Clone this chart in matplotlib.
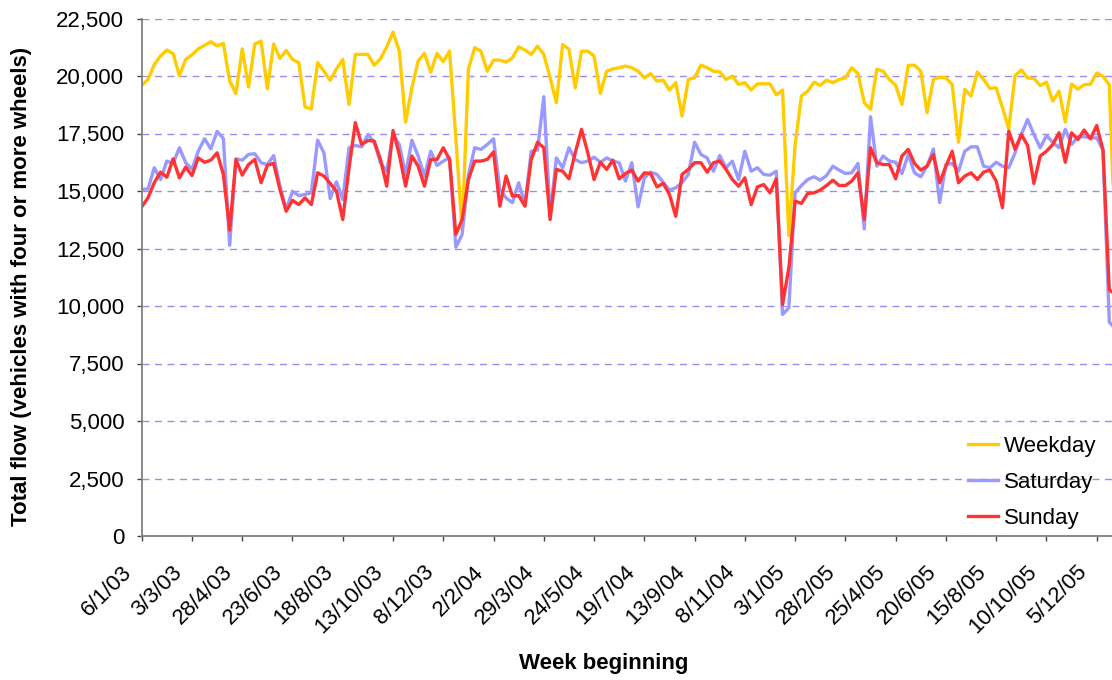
import numpy as np
import matplotlib
matplotlib.use('Agg')
import matplotlib.pyplot as plt
import matplotlib.ticker as ticker
import matplotlib.transforms as transforms

plt.rcParams['font.family'] = ['Liberation Sans', 'DejaVu Sans']

# week labels, one every 8 weeks starting 6/1/03
tick_labels = ['6/1/03', '3/3/03', '28/4/03', '23/6/03', '18/8/03', '13/10/03', '8/12/03',
               '2/2/04', '29/3/04', '24/5/04', '19/7/04', '13/9/04', '8/11/04',
               '3/1/05', '28/2/05', '25/4/05', '20/6/05', '15/8/05', '10/10/05', '5/12/05']
label_step = 8

# weekly total flow, vehicles with four or more wheels
weekday = [19590, 19850, 20500, 20870, 21130, 20970, 20020, 20720, 20920, 21180,
           21330, 21490, 21310, 21420, 19780, 19240, 21180, 19520, 21390, 21520,
           19440, 21390, 20760, 21110, 20720, 20580, 18650, 18570, 20580, 20210,
           19810, 20310, 20720, 18760, 20940, 20940, 20940, 20470, 20750, 21270,
           21910, 21080, 17990, 19490, 20650, 20980, 20170, 20980, 20630, 21080,
           17300, 13300, 20290, 21230, 21080, 20210, 20690, 20690, 20600, 20790,
           21270, 21130, 20940, 21300, 20940, 19920, 18840, 21370, 21160, 19490,
           21080, 21080, 20870, 19240, 20210, 20310, 20360, 20430, 20360, 20210,
           19920, 20100, 19780, 19820, 19390, 19710, 18260, 19850, 19920, 20470,
           20360, 20210, 20180, 19850, 20000, 19630, 19710, 19390, 19660, 19660,
           19660, 19180, 19390, 13060, 17020, 19130, 19340, 19730, 19590, 19820,
           19710, 19850, 19920, 20360, 20110, 18840, 18550, 20290, 20210, 19850,
           19590, 18760, 20460, 20470, 20210, 18400, 19850, 19950, 19920, 19630,
           17120, 19420, 19130, 20170, 19850, 19460, 19490, 18620, 17700, 20020,
           20260, 19920, 19890, 19590, 19730, 18910, 19340, 18000, 19650, 19430,
           19620, 19640, 20130, 19980, 19620, 12350]
saturday = [15070, 15090, 16010, 15500, 16300, 16200, 16880, 16230, 15940, 16730,
            17270, 16830, 17590, 17280, 12640, 16400, 16340, 16590, 16620, 16230,
            16150, 16540, 15210, 14200, 14990, 14800, 14850, 14920, 17210, 16660,
            14670, 15400, 14630, 16880, 16980, 16920, 17460, 17120, 16230, 15860,
            17460, 17020, 15720, 17210, 16520, 15650, 16730, 16110, 16300, 16440,
            12560, 13110, 15700, 16880, 16810, 17020, 17270, 15070, 14700, 14490,
            15360, 14410, 16730, 16780, 19100, 13900, 16440, 16010, 16880, 16370,
            16230, 16300, 16470, 16250, 16440, 16300, 16230, 15430, 16230, 14310,
            15570, 15820, 15720, 15380, 15040, 15140, 15360, 15720, 17120, 16590,
            16440, 15860, 16540, 16010, 16300, 15500, 16730, 15860, 16010, 15720,
            15690, 15860, 9630, 9920, 14920, 15240, 15500, 15620, 15470, 15670,
            16080, 15910, 15760, 15790, 16200, 13350, 18230, 16080, 16520, 16300,
            16250, 15760, 16590, 15790, 15620, 16080, 16830, 14500, 16150, 16200,
            15860, 16730, 16920, 16920, 16080, 16010, 16250, 16080, 16010, 16660,
            17460, 18110, 17460, 16880, 17410, 17120, 16880, 17680, 17020, 17360,
            17360, 17310, 17310, 16780, 9300, 9000]
sunday = [14310, 14700, 15360, 15820, 15600, 16400, 15570, 16040, 15670, 16440,
          16250, 16340, 16660, 15720, 13300, 16370, 15690, 16150, 16370, 15360,
          16120, 16200, 15070, 14120, 14590, 14410, 14700, 14410, 15790, 15650,
          15330, 14990, 13760, 16000, 17970, 17020, 17200, 17170, 16370, 15210,
          17630, 16590, 15210, 16520, 16080, 15210, 16370, 16370, 16880, 16370,
          13110, 13760, 15500, 16300, 16300, 16370, 16700, 14340, 15650, 14780,
          14800, 14340, 16370, 17120, 16880, 13760, 15940, 15860, 15530, 16660,
          17680, 16660, 15500, 16250, 15940, 16340, 15530, 15760, 15910, 15430,
          15790, 15760, 15180, 15330, 14850, 13900, 15720, 15940, 16230, 16230,
          15820, 16230, 16300, 15940, 15500, 15210, 15570, 14410, 15180, 15280,
          14920, 15530, 10060, 11660, 14560, 14460, 14890, 14920, 15040, 15240,
          15470, 15240, 15240, 15430, 15790, 13760, 16880, 16230, 16150, 16150,
          15530, 16520, 16810, 16200, 15910, 16080, 16590, 15360, 16080, 16730,
          15360, 15650, 15790, 15500, 15820, 15910, 15430, 14270, 17600, 16810,
          17460, 16980, 15330, 16520, 16730, 17020, 17530, 16250, 17530, 17240,
          17650, 17270, 17850, 16780, 10700, 10500]

W, H = 1112, 680
x = np.arange(len(weekday))

fig = plt.figure(figsize=(W / 100, H / 100), dpi=100)
# plot area runs off the right edge of the image
ax = fig.add_axes([141.7 / W, 144 / H, (W - 141.7) / W, (536 - 18.5) / H])

ax.plot(x, weekday, color='#FFCC00', lw=2.4, label='Weekday')
ax.plot(x, saturday, color='#9999FF', lw=2.4, label='Saturday')
ax.plot(x, sunday, color='#FF3333', lw=2.4, label='Sunday')

ax.set_xlim(0, (W - 141.7) / 6.283)
ax.set_ylim(0, 22500)

ax.yaxis.set_major_locator(ticker.MultipleLocator(2500))
ax.yaxis.set_major_formatter(ticker.StrMethodFormatter('{x:,.0f}'))
ax.grid(axis='y', color='#9d8cf0', ls=(0, (5, 4)), lw=1)
ax.set_axisbelow(True)

# x ticks every 8 weeks; labels drawn by hand so they can sit left of the tick
xticks = x[::label_step][:len(tick_labels)]
ax.set_xticks(xticks)
ax.set_xticklabels([])
lab_trans = ax.get_xaxis_transform() + transforms.ScaledTranslation(-13 / 100, -33 / 100, fig.dpi_scale_trans)
for xt, txt in zip(xticks, tick_labels):
    ax.text(xt, 0, txt, transform=lab_trans, rotation=45, ha='right', va='center',
            rotation_mode='anchor', fontsize=16, clip_on=False)

ax.tick_params(axis='both', direction='out', length=3.6, width=1, color='#444444',
               labelsize=16, labelcolor='black')
ax.tick_params(axis='y', pad=9)

for s in ['top', 'right']:
    ax.spines[s].set_visible(False)
for s in ['left', 'bottom']:
    ax.spines[s].set_color('#808080')
    ax.spines[s].set_linewidth(1.3)

fig.text(22 / W, 1 - 286 / H, 'Total flow (vehicles with four or more wheels)',
         rotation=90, ha='center', va='center', fontsize=16, fontweight='bold')
fig.text(604 / W, 1 - 663 / H, 'Week beginning', ha='center', va='center',
         fontsize=16, fontweight='bold')

ax.legend(loc='upper left', bbox_to_anchor=(968 / W, 1 - 436 / H), bbox_transform=fig.transFigure,
          frameon=False, borderpad=0, borderaxespad=0, handlelength=1.35, handletextpad=0.25,
          labelspacing=0.68, fontsize=16)

fig.savefig('out.png', dpi=100)
